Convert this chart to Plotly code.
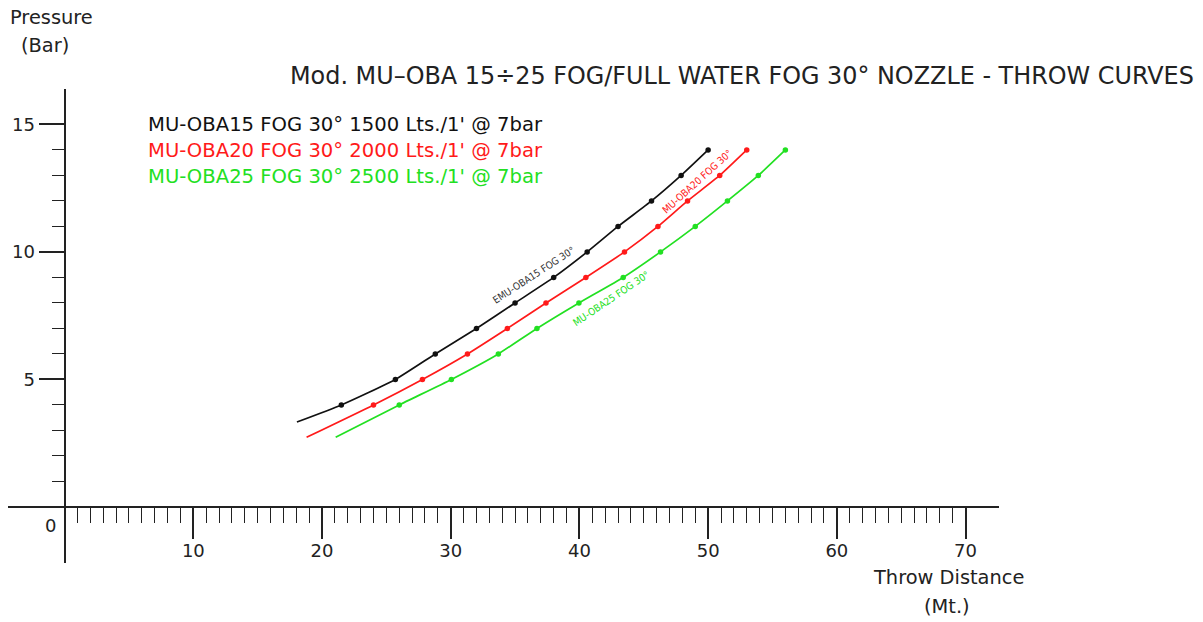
import plotly.graph_objects as go

# ---------------- data ----------------
pressure_marks = [4, 5, 6, 7, 8, 9, 10, 11, 12, 13, 14]

oba15_start = [18.05, 3.33]
oba15_dist = [21.5, 25.7, 28.8, 32.0, 35.0, 38.0, 40.6, 43.0, 45.6, 47.9, 50.0]

oba20_start = [18.8, 2.73]
oba20_dist = [24.0, 27.8, 31.3, 34.4, 37.4, 40.5, 43.5, 46.1, 48.4, 50.9, 53.0]

oba25_start = [21.06, 2.73]
oba25_dist = [26.0, 30.05, 33.7, 36.7, 39.96, 43.4, 46.3, 49.0, 51.5, 53.9, 56.0]

series_names = [
    "MU-OBA15 FOG 30° 1500 Lts./1' @ 7bar",
    "MU-OBA20 FOG 30° 2000 Lts./1' @ 7bar",
    "MU-OBA25 FOG 30° 2500 Lts./1' @ 7bar",
]
curve_labels = ["EMU-OBA15 FOG 30°", "MU-OBA20 FOG 30°", "MU-OBA25 FOG 30°"]

x_major_ticks = [10, 20, 30, 40, 50, 60, 70]
x_minor_ticks = [v for v in range(1, 70) if v % 10 != 0]
y_major_ticks = [5, 10, 15]
y_minor_ticks = [v for v in range(1, 15) if v % 5 != 0]

title_text = "Mod. MU–OBA 15÷25 FOG/FULL WATER FOG 30° NOZZLE - THROW CURVES"

# ---------------- layout geometry ----------------
W, H = 1203, 622
ML, MR, MT, MB = 8, 204, 89, 59
XR = [-4.4, 72.6]
YR = [-2.2, 16.39]
PW = W - ML - MR
PH = H - MT - MB

def fx(px):
    return (px - ML) / PW

def fy(py):
    return (H - MB - py) / PH

FONT = "DejaVu Sans, sans-serif"
FONT_C = "DejaVu Sans Condensed, DejaVu Sans, sans-serif"
AXC = "#222222"
colors = ["#111111", "#ff1a1a", "#22e022"]

fig = go.Figure()

datasets = [
    (oba15_start, oba15_dist),
    (oba20_start, oba20_dist),
    (oba25_start, oba25_dist),
]
for i, ((sx, sy), dist) in enumerate(datasets):
    fig.add_trace(go.Scatter(
        x=[sx] + dist, y=[sy] + pressure_marks,
        mode="lines", line=dict(color=colors[i], width=1.7, shape="spline", smoothing=0.5),
        showlegend=False, hoverinfo="skip", xaxis="x2" if i == 0 else "x",
    ))
    fig.add_trace(go.Scatter(
        x=dist, y=pressure_marks, mode="markers",
        marker=dict(color=colors[i], size=5.5),
        showlegend=False, yaxis="y2" if i == 0 else "y",
    ))

fig.update_layout(
    width=W, height=H,
    margin=dict(l=ML, r=MR, t=MT, b=MB),
    paper_bgcolor="white", plot_bgcolor="white",
    showlegend=False,
    xaxis=dict(range=XR, showgrid=False, showticklabels=False, ticks="",
               zeroline=True, zerolinecolor=AXC, zerolinewidth=1.8, showline=False),
    yaxis=dict(range=YR, showgrid=False, showticklabels=False, ticks="",
               zeroline=True, zerolinecolor=AXC, zerolinewidth=1.8, showline=False),
    xaxis2=dict(range=XR, overlaying="x", anchor="free",
                position=(0 - YR[0]) / (YR[1] - YR[0]),
                showgrid=False, zeroline=False, showline=False,
                tickmode="array", tickvals=x_major_ticks,
                ticktext=[str(v) for v in x_major_ticks],
                ticks="outside", ticklen=31, tickwidth=1.5, tickcolor=AXC,
                ticklabelstandoff=-4,
                tickfont=dict(family=FONT, size=18, color="#222"),
                minor=dict(tickmode="array", tickvals=x_minor_ticks, ticks="outside",
                           ticklen=15, tickwidth=1.3, tickcolor=AXC, showgrid=False)),
    yaxis2=dict(range=YR, overlaying="y", anchor="free",
                position=(0 - XR[0]) / (XR[1] - XR[0]),
                showgrid=False, zeroline=False, showline=False,
                tickmode="array", tickvals=y_major_ticks,
                ticktext=[str(v) for v in y_major_ticks],
                ticks="outside", ticklen=26, tickwidth=1.5, tickcolor=AXC,
                tickfont=dict(family=FONT, size=18, color="#222"),
                minor=dict(tickmode="array", tickvals=y_minor_ticks, ticks="outside",
                           ticklen=13, tickwidth=1.3, tickcolor=AXC, showgrid=False)),
)

def text(t, px, py, size=16, color="#222", xanchor="center", angle=0, family=FONT):
    fig.add_annotation(text=t, x=fx(px), y=fy(py), xref="paper", yref="paper",
                       xanchor=xanchor, yanchor="middle", showarrow=False,
                       textangle=angle, font=dict(family=family, size=size, color=color))

text("Pressure", 51, 18, size=19.4)
text("(Bar)", 45, 45, size=19.4)
text(title_text, 1196, 76, size=23.9, xanchor="right")
for i, name in enumerate(series_names):
    text(name, 146, [124, 151, 177][i], size=19.6, color=colors[i], xanchor="left")
text("0", 50, 525, size=18)
text("Throw Distance", 948, 577, size=19.4)
text("(Mt.)", 947, 606, size=19.4)

text(curve_labels[0], 533, 275, size=10, color="#333", angle=-33, family=FONT_C)
text(curve_labels[1], 697, 181, size=10, color=colors[1], angle=-42, family=FONT_C)
text(curve_labels[2], 611, 298, size=10, color=colors[2], angle=-34, family=FONT_C)

fig.write_html("out.html", config={"displayModeBar": False},
               post_script="document.body.style.margin='0px';")
